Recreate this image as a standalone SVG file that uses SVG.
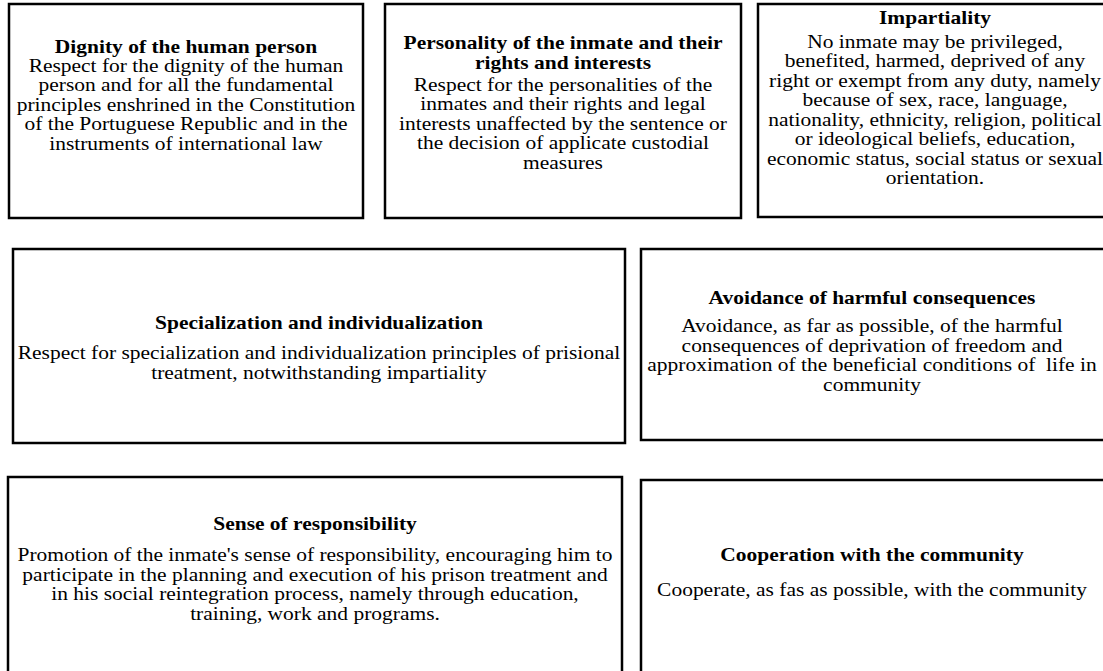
<svg xmlns="http://www.w3.org/2000/svg" width="1103" height="671" viewBox="0 0 1103 671">
  <style>
    .box { fill: #ffffff; stroke: #000000; stroke-width: 2.5; }
    .t { font-family: "Liberation Serif", "Times New Roman", serif; font-size: 19px; font-weight: bold; fill: #000; text-anchor: middle; }
    .b { font-family: "Liberation Serif", "Times New Roman", serif; font-size: 19px; fill: #000; text-anchor: middle; }
  </style>
  <rect x="0" y="0" width="1103" height="671" fill="#ffffff"/>
  <g id="connectors"></g>
  <g id="node-dignity">
    <rect class="box" x="9" y="4" width="354" height="214"/>
    <g transform="translate(186,0) scale(1.13,1)">
      <text class="t" x="0" y="53">Dignity of the human person</text>
      <text class="b" x="0" y="72">Respect for the dignity of the human</text>
      <text class="b" x="0" y="91.5">person and for all the fundamental</text>
      <text class="b" x="0" y="111">principles enshrined in the Constitution</text>
      <text class="b" x="0" y="130.5">of the Portuguese Republic and in the</text>
      <text class="b" x="0" y="150">instruments of international law</text>
    </g>
  </g>
  <g id="node-personality">
    <rect class="box" x="385" y="4" width="356" height="214"/>
    <g transform="translate(563,0) scale(1.13,1)">
      <text class="t" x="0" y="49">Personality of the inmate and their</text>
      <text class="t" x="0" y="69">rights and interests</text>
      <text class="b" x="0" y="91">Respect for the personalities of the</text>
      <text class="b" x="0" y="110.5">inmates and their rights and legal</text>
      <text class="b" x="0" y="130">interests unaffected by the sentence or</text>
      <text class="b" x="0" y="149.5">the decision of applicate custodial</text>
      <text class="b" x="0" y="169">measures</text>
    </g>
  </g>
  <g id="node-impartiality">
    <rect class="box" x="758" y="4" width="354" height="213"/>
    <g transform="translate(935,0) scale(1.13,1)">
      <text class="t" x="0" y="24">Impartiality</text>
      <text class="b" x="0" y="48">No inmate may be privileged,</text>
      <text class="b" x="0" y="67.5">benefited, harmed, deprived of any</text>
      <text class="b" x="0" y="87">right or exempt from any duty, namely</text>
      <text class="b" x="0" y="106.5">because of sex, race, language,</text>
      <text class="b" x="0" y="126">nationality, ethnicity, religion, political</text>
      <text class="b" x="0" y="145.5">or ideological beliefs, education,</text>
      <text class="b" x="0" y="165">economic status, social status or sexual</text>
      <text class="b" x="0" y="184.5">orientation.</text>
    </g>
  </g>
  <g id="node-specialization">
    <rect class="box" x="13" y="249" width="612" height="194"/>
    <g transform="translate(319,0) scale(1.13,1)">
      <text class="t" x="0" y="329">Specialization and individualization</text>
      <text class="b" x="0" y="359">Respect for specialization and individualization principles of prisional</text>
      <text class="b" x="0" y="379">treatment, notwithstanding impartiality</text>
    </g>
  </g>
  <g id="node-avoidance">
    <rect class="box" x="641" y="249" width="465" height="191"/>
    <g transform="translate(872,0) scale(1.13,1)">
      <text class="t" x="0" y="304">Avoidance of harmful consequences</text>
      <text class="b" x="0" y="332">Avoidance, as far as possible, of the harmful</text>
      <text class="b" x="0" y="352">consequences of deprivation of freedom and</text>
      <text class="b" x="0" y="371" xml:space="preserve">approximation of the beneficial conditions of  life in</text>
      <text class="b" x="0" y="391">community</text>
    </g>
  </g>
  <g id="node-responsibility">
    <rect class="box" x="8" y="477" width="614" height="210"/>
    <g transform="translate(315,0) scale(1.13,1)">
      <text class="t" x="0" y="530">Sense of responsibility</text>
      <text class="b" x="0" y="561">Promotion of the inmate's sense of responsibility, encouraging him to</text>
      <text class="b" x="0" y="581">participate in the planning and execution of his prison treatment and</text>
      <text class="b" x="0" y="600">in his social reintegration process, namely through education,</text>
      <text class="b" x="0" y="620">training, work and programs.</text>
    </g>
  </g>
  <g id="node-cooperation">
    <rect class="box" x="641" y="480" width="465" height="210"/>
    <g transform="translate(872,0) scale(1.13,1)">
      <text class="t" x="0" y="561">Cooperation with the community</text>
      <text class="b" x="0" y="596">Cooperate, as fas as possible, with the community</text>
    </g>
  </g>
</svg>
